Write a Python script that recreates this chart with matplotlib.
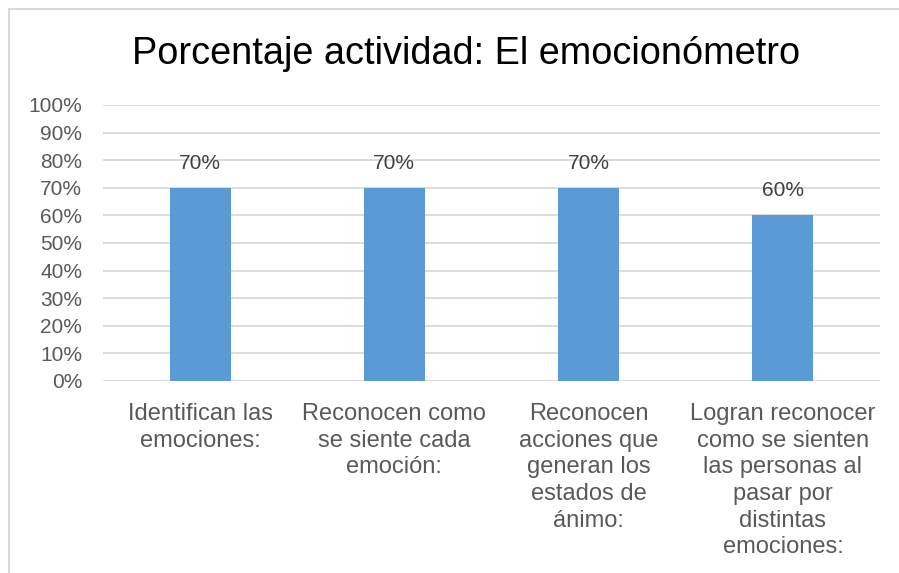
import matplotlib.pyplot as plt
from matplotlib.patches import Rectangle
from matplotlib.ticker import PercentFormatter

categories = [
    "Identifican las\nemociones:",
    "Reconocen como\nse siente cada\nemoción:",
    "Reconocen\nacciones que\ngeneran los\nestados de\nánimo:",
    "Logran reconocer\ncomo se sienten\nlas personas al\npasar por\ndistintas\nemociones:",
]
values = [0.70, 0.70, 0.70, 0.60]
yticks = [i / 10 for i in range(11)]

plt.rcParams['font.family'] = ['Liberation Sans', 'DejaVu Sans']

fig = plt.figure(figsize=(8.99, 5.73), dpi=100)
ax = fig.add_axes([103 / 899, 1 - 381 / 573, (880 - 103) / 899, (381 - 105) / 573])

# chart frame (cut off on right and bottom like the reference)
fig.patches.append(Rectangle((9 / 899, -0.1), 1.2, 1 - 9 / 573 + 0.1,
                             transform=fig.transFigure, fill=False,
                             edgecolor="#d9d9d9", linewidth=1.5))

x = list(range(len(categories)))
bars = ax.bar(x, values, width=0.315, color="#5b9bd5", zorder=3)
for xi, v in zip(x, values):
    ax.text(xi, v + 0.055, f"{v:.0%}", ha="center", va="bottom",
            fontsize=15, color="#404040")

ax.set_xlim(-0.5, len(categories) - 0.5)
ax.set_ylim(0, 1)
ax.set_yticks(yticks)
ax.yaxis.set_major_formatter(PercentFormatter(1.0, decimals=0))
ax.grid(axis="y", color="#d9d9d9", linewidth=1.3, zorder=0)
for s in ax.spines.values():
    s.set_visible(False)
ax.tick_params(axis="y", length=0, pad=15, labelsize=15, labelcolor="#595959")
ax.tick_params(axis="x", length=0, pad=16)
ax.set_xticks(x)
ax.set_xticklabels(categories, fontsize=17, color="#595959", linespacing=1.27, va="top")

fig.text(466 / 899, 1 - 64 / 573, "Porcentaje actividad: El emocionómetro",
         ha="center", va="baseline", fontsize=27.3, color="black")

fig.savefig("out.png", dpi=100)
